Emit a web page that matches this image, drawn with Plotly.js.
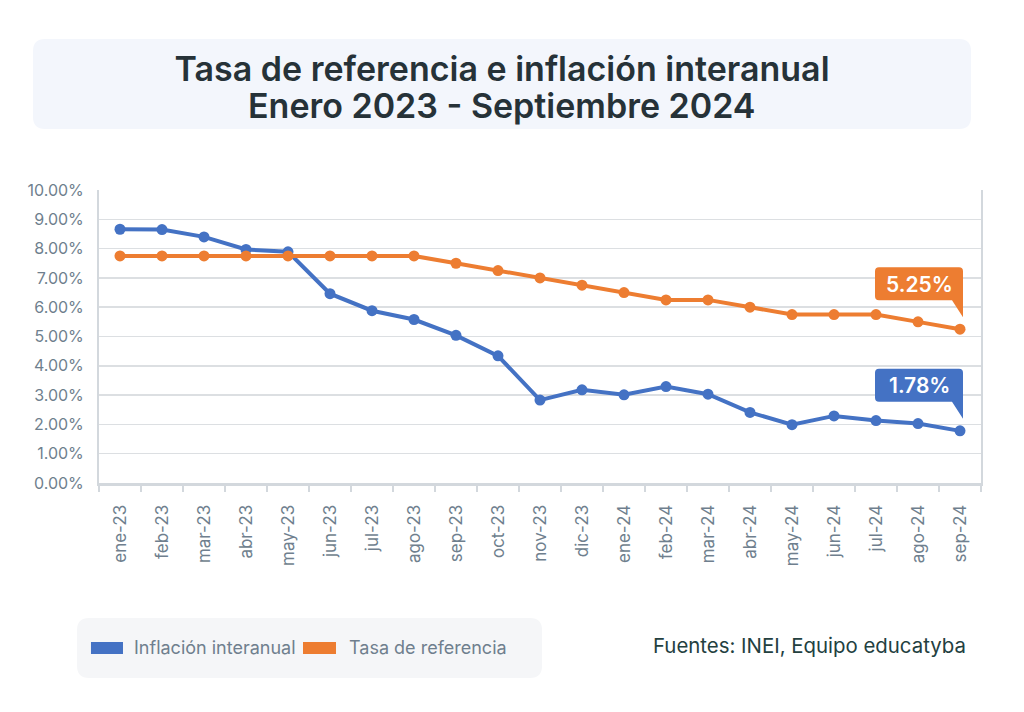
<!DOCTYPE html>
<html>
<head>
<meta charset="utf-8">
<script src="https://cdn.plot.ly/plotly-3.0.1.min.js"></script>
<style>
  html, body { margin: 0; padding: 0; background: #ffffff; }
  #chart { width: 1024px; height: 712px; }
</style>
</head>
<body>
<div id="chart"></div>
<script>
// ---- Data ----
const meses = ['ene-23','feb-23','mar-23','abr-23','may-23','jun-23','jul-23','ago-23','sep-23','oct-23','nov-23','dic-23',
               'ene-24','feb-24','mar-24','abr-24','may-24','jun-24','jul-24','ago-24','sep-24'];
const inflacionInteranual = [8.66, 8.65, 8.40, 7.97, 7.89, 6.46, 5.88, 5.58, 5.04, 4.34, 2.83, 3.18,
                             3.01, 3.29, 3.03, 2.41, 1.99, 2.29, 2.13, 2.03, 1.78];
const tasaReferencia = [7.75, 7.75, 7.75, 7.75, 7.75, 7.75, 7.75, 7.75, 7.50, 7.25, 7.00, 6.75,
                        6.50, 6.25, 6.25, 6.00, 5.75, 5.75, 5.75, 5.50, 5.25];
const nombreInflacion = 'Inflación interanual';
const nombreTasa = 'Tasa de referencia';
const tituloLinea1 = 'Tasa de referencia e inflación interanual';
const tituloLinea2 = 'Enero 2023 - Septiembre 2024';
const fuente = 'Fuentes: INEI, Equipo educatyba';

// ---- Styles ----
const AZUL = '#4472C4';
const NARANJA = '#ED7D31';
const GRIS_TXT = '#6F7F8E';
const FONT = 'Inter, "Noto Sans", sans-serif';

const traces = [
  {
    type: 'scatter', mode: 'lines+markers', x: meses, y: inflacionInteranual,
    name: nombreInflacion, showlegend: false,
    line: { color: AZUL, width: 4 }, marker: { color: AZUL, size: 11 },
    hoverinfo: 'skip'
  },
  {
    type: 'scatter', mode: 'lines+markers', x: meses, y: tasaReferencia,
    name: nombreTasa, showlegend: false,
    line: { color: NARANJA, width: 4 }, marker: { color: NARANJA, size: 11 },
    hoverinfo: 'skip'
  }
];

function rrect(x0, y0, x1, y1, rx, ry) {
  return `M ${x0+rx},${y1} L ${x1-rx},${y1} Q ${x1},${y1} ${x1},${y1-ry} L ${x1},${y0+ry} Q ${x1},${y0} ${x1-rx},${y0} ` +
         `L ${x0+rx},${y0} Q ${x0},${y0} ${x0},${y0+ry} L ${x0},${y1-ry} Q ${x0},${y1} ${x0+rx},${y1} Z`;
}
// callout bubble (pixel offsets relative to the data point, +y is up)
const calloutPath = 'M -81,62 L -1,62 Q 3,62 3,58 L 3,12 L -8,29 L -81,29 Q -85,29 -85,33 L -85,58 Q -85,62 -81,62 Z';

const last = meses.length - 1;
const shapes = [
  // title panel
  { type: 'path', xref: 'paper', yref: 'paper', layer: 'below',
    path: rrect(-0.0748, 1.208, 0.9887, 1.515, 0.0136, 0.041),
    fillcolor: '#F3F6FC', line: { width: 0 } },
  // legend panel
  { type: 'path', xref: 'paper', yref: 'paper', layer: 'below',
    path: rrect(-0.0249, -0.6655, 0.5023, -0.4608, 0.0136, 0.041),
    fillcolor: '#F5F6F8', line: { width: 0 } },
  // legend swatches
  { type: 'rect', xref: 'paper', yref: 'paper', x0: -0.0091, x1: 0.0272, y0: -0.5836, y1: -0.5427,
    fillcolor: AZUL, line: { width: 0 } },
  { type: 'rect', xref: 'paper', yref: 'paper', x0: 0.2313, x1: 0.2687, y0: -0.5836, y1: -0.5427,
    fillcolor: NARANJA, line: { width: 0 } },
  // callouts
  { type: 'path', xref: 'x', yref: 'y', xsizemode: 'pixel', ysizemode: 'pixel',
    xanchor: meses[last], yanchor: tasaReferencia[last], path: calloutPath,
    fillcolor: NARANJA, line: { width: 0 } },
  { type: 'path', xref: 'x', yref: 'y', xsizemode: 'pixel', ysizemode: 'pixel',
    xanchor: meses[last], yanchor: inflacionInteranual[last], path: calloutPath,
    fillcolor: AZUL, line: { width: 0 } }
];

const annotations = [
  { xref: 'paper', yref: 'paper', x: 0.457, y: 1.287, showarrow: false,
    xanchor: 'center', yanchor: 'middle', text: tituloLinea2,
    font: { family: FONT, size: 34, color: '#263238', weight: 600 } },
  { xref: 'x', yref: 'y', x: meses[last], y: tasaReferencia[last], showarrow: false,
    xanchor: 'center', yanchor: 'middle', xshift: -41, yshift: 45,
    text: tasaReferencia[last].toFixed(2) + '%',
    font: { family: FONT, size: 21, color: '#ffffff', weight: 600 } },
  { xref: 'x', yref: 'y', x: meses[last], y: inflacionInteranual[last], showarrow: false,
    xanchor: 'center', yanchor: 'middle', xshift: -41, yshift: 45,
    text: inflacionInteranual[last].toFixed(2) + '%',
    font: { family: FONT, size: 21, color: '#ffffff', weight: 600 } },
  // legend labels
  { xref: 'paper', yref: 'paper', x: 0.0374, y: -0.5631, showarrow: false,
    xanchor: 'left', yanchor: 'middle', text: nombreInflacion,
    font: { family: FONT, size: 18, color: GRIS_TXT } },
  { xref: 'paper', yref: 'paper', x: 0.2812, y: -0.5631, showarrow: false,
    xanchor: 'left', yanchor: 'middle', text: nombreTasa,
    font: { family: FONT, size: 18, color: GRIS_TXT } },
  // source
  { xref: 'paper', yref: 'paper', x: 0.985, y: -0.553, showarrow: false,
    xanchor: 'right', yanchor: 'middle', text: fuente,
    font: { family: FONT, size: 20.4, color: '#23403F' } }
];

const layout = {
  width: 1024, height: 712,
  margin: { l: 99, r: 43, t: 190, b: 229 },
  paper_bgcolor: '#ffffff', plot_bgcolor: '#ffffff',
  font: { family: FONT, color: GRIS_TXT },
  title: {
    text: tituloLinea1,
    x: 0.457, xanchor: 'center', xref: 'paper',
    y: 1 - 69 / 712, yanchor: 'middle', yref: 'container',
    font: { family: FONT, size: 34, color: '#263238', weight: 600 }
  },
  xaxis: {
    type: 'category', range: [-0.5, meses.length - 0.5],
    tickangle: -90, tickson: 'boundaries',
    ticks: 'outside', ticklen: 6, tickwidth: 1.5, tickcolor: '#D3D8DD',
    showline: true, linecolor: '#D3D8DD', linewidth: 3, mirror: false,
    showgrid: false, ticklabelstandoff: 12,
    tickfont: { family: FONT, size: 17, color: GRIS_TXT }
  },
  yaxis: {
    range: [0, 10], dtick: 1, tickformat: '.2f', ticksuffix: '%',
    showgrid: true, gridcolor: '#DCDFE2', gridwidth: 1.5,
    showline: true, linecolor: '#D3D8DD', linewidth: 2, mirror: true,
    zeroline: false, ticks: '', ticklabelstandoff: 10,
    tickfont: { family: FONT, size: 16, color: GRIS_TXT }
  },
  showlegend: false,
  shapes: shapes,
  annotations: annotations
};

Plotly.newPlot('chart', traces, layout, { displayModeBar: false, staticPlot: true });
</script>
</body>
</html>
